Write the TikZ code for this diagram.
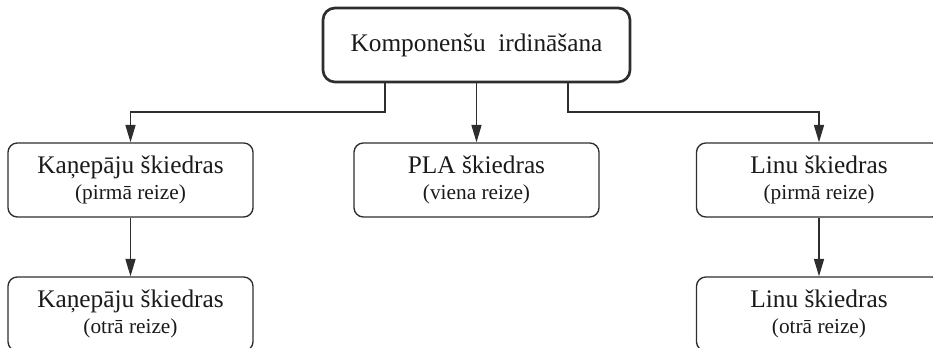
\documentclass[tikz,border=0pt]{standalone}
\usepackage{fontspec}
\setmainfont{Liberation Serif}
\usepackage{xcolor}
\usetikzlibrary{positioning,arrows.meta}
\definecolor{linegray}{HTML}{2E2E2E}
\definecolor{inkgray}{HTML}{1A1A1A}
\newcommand{\secondline}[1]{{\fontsize{16}{20}\selectfont #1}}

\tikzset{
  stagebox/.style={draw=linegray, line width=1pt, rounded corners=7pt, minimum width=183.75pt, minimum height=55.5pt, inner sep=0pt, align=center, text=inkgray, font=\fontsize{19}{20}\selectfont},
  mainbox/.style={stagebox, line width=2pt, rounded corners=9pt, minimum width=230.25pt},
  flow/.style={draw=linegray, line width=1pt, -{Triangle[length=13pt,width=7.5pt]}},
}

\begin{document}
\begin{tikzpicture}[x=0.75pt, y=-0.75pt]
\useasboundingbox (0,0) rectangle (933,348);

\node[mainbox] (irdin) at (476.5,45) {Komponenšu\ \ irdināšana};

\node[stagebox] (kan1) at (130.5,180) {Kaņepāju škiedras\\\secondline{(pirmā reize)}};
\node[stagebox] (pla) at (476.5,180) {PLA škiedras\\\secondline{(viena reize)}};
\node[stagebox] (lin1) at (819,180) {Linu škiedras\\\secondline{(pirmā reize)}};
\node[stagebox] (kan2) at (130.5,314) {Kaņepāju škiedras\\\secondline{(otrā reize)}};
\node[stagebox] (lin2) at (819,314) {Linu škiedras\\\secondline{(otrā reize)}};

% split points under the main box
\coordinate (outl) at (385,82);
\coordinate (outr) at (568,82);
\coordinate (level) at (0,112);

\draw[flow] (outl) -- (outl |- level) -- (kan1.north |- level) -- (kan1.north);
\draw[flow] (irdin.south) -- (pla.north);
\draw[flow] (outr) -- (outr |- level) -- (lin1.north |- level) -- (lin1.north);
\draw[flow] (kan1.south) -- (kan2.north);
\draw[flow] (lin1.south) -- (lin2.north);
\end{tikzpicture}
\end{document}
